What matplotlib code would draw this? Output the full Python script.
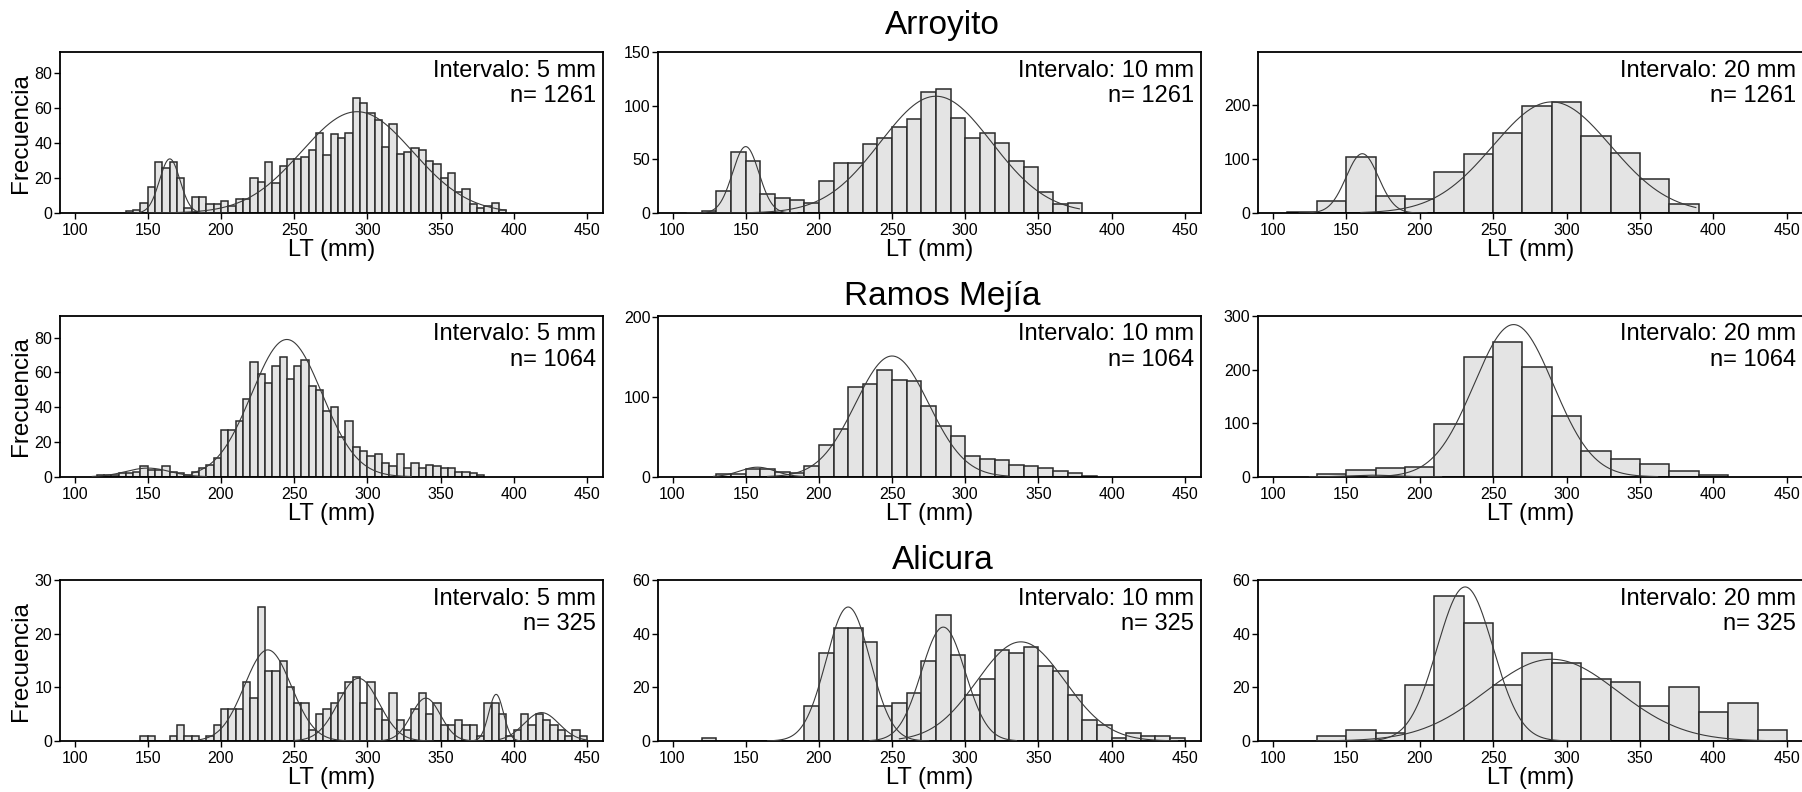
import numpy as np
import matplotlib
matplotlib.use("Agg")
import matplotlib.pyplot as plt

plt.rcParams["font.family"] = ["Liberation Sans", "DejaVu Sans"]

# Frequencies per length class (LT, mm).
# Each series starts at the given left bin edge.

# --- Arroyito (n = 1261) ---
arroyito_5_start = 135
arroyito_5 = [1, 2, 6, 15, 29, 26, 29, 20, 3, 9, 9, 5, 5, 7, 4, 8, 8,
              20, 18, 29, 17, 27, 31, 31, 32, 36, 46, 33, 45, 43, 46,
              66, 63, 57, 53, 38, 51, 34, 35, 37, 36, 30, 28, 20, 23,
              12, 14, 5, 3, 4, 6, 2]
arroyito_10_start = 120
arroyito_10 = [2, 21, 57, 49, 18, 14, 12, 9, 30, 47, 47, 64, 70, 80, 88,
               113, 116, 89, 70, 75, 65, 49, 43, 20, 8, 9]
arroyito_20_start = 110
arroyito_20 = [2, 23, 104, 32, 26, 76, 110, 149, 199, 205, 142, 112, 63, 17]

# --- Ramos Mejía (n = 1064) ---
ramos_5_start = 115
ramos_5 = [1, 1, 1, 2, 2, 3, 6, 4, 4, 6, 3, 2, 1, 3, 5, 7, 11,
           27, 27, 32, 45, 66, 59, 54, 64, 69, 56, 64, 67, 52, 50, 38,
           40, 23, 32, 17, 15, 12, 13, 8, 6, 13, 5, 8, 5, 7, 6, 5, 5,
           3, 3, 2, 1]
ramos_10_start = 130
ramos_10 = [4, 3, 10, 10, 6, 5, 14, 40, 60, 112, 116, 134, 121, 120, 89,
            64, 51, 26, 22, 21, 15, 13, 11, 7, 5, 1]
ramos_20_start = 130
ramos_20 = [5, 12, 16, 19, 98, 224, 252, 205, 113, 48, 33, 24, 11, 3]

# --- Alicura (n = 325) ---
alicura_5_start = 145
alicura_5 = [1, 1, 0, 0, 1, 3, 1, 1, 0, 1, 3, 6, 6, 6, 11, 8, 25, 13, 13,
             15, 10, 7, 7, 2, 5, 6, 7, 9, 11, 12, 7, 11, 6, 4, 9, 4, 2,
             6, 9, 5, 7, 3, 3, 4, 3, 3, 1, 7, 7, 5, 1, 2, 5, 3, 5, 4, 3,
             2, 1, 2, 1]
alicura_10_start = 120
alicura_10 = [1, 0, 0, 0, 0, 0, 0, 13, 33, 42, 42, 37, 13, 14, 18, 30, 47,
              32, 17, 23, 34, 33, 35, 28, 26, 17, 8, 6, 1, 3, 2, 2, 1]
alicura_20_start = 130
alicura_20 = [2, 4, 3, 21, 54, 44, 21, 33, 29, 23, 22, 13, 20, 11, 14, 4]

# Fitted normal components: (mean, sd, peak height, from, to)
arroyito_5_fit = [(165, 7, 31, 135, 205), (293, 38, 58, 150, 395)]
arroyito_10_fit = [(150, 9, 62, 110, 185), (280, 38, 109, 125, 378)]
arroyito_20_fit = [(161, 11, 110, 118, 205), (290, 40, 206, 160, 388)]
ramos_5_fit = [(150, 15, 5, 112, 190), (245, 24, 79, 180, 330)]
ramos_10_fit = [(158, 12, 12, 128, 190), (250, 25, 151, 165, 330)]
ramos_20_fit = [(168, 15, 3, 125, 215), (264, 27, 284, 165, 362)]
alicura_5_fit = [(232, 16, 17, 185, 300), (294, 14, 11.7, 250, 345),
                 (340, 10, 8, 300, 380), (388, 5, 8.7, 370, 410),
                 (419, 12, 5.3, 390, 450)]
alicura_10_fit = [(220, 15, 50, 165, 275), (285, 15, 42.5, 235, 335),
                  (338, 30, 37, 255, 445)]
alicura_20_fit = [(231, 19, 57.5, 130, 330), (290, 45, 30.5, 130, 450)]

sites = ["Arroyito", "Ramos Mejía", "Alicura"]
sizes = [1261, 1064, 325]
widths = [5, 10, 20]

grid = [
    [(arroyito_5, arroyito_5_start, arroyito_5_fit, 92, [0, 20, 40, 60, 80]),
     (arroyito_10, arroyito_10_start, arroyito_10_fit, 150, [0, 50, 100, 150]),
     (arroyito_20, arroyito_20_start, arroyito_20_fit, 298, [0, 100, 200])],
    [(ramos_5, ramos_5_start, ramos_5_fit, 92.5, [0, 20, 40, 60, 80]),
     (ramos_10, ramos_10_start, ramos_10_fit, 201, [0, 100, 200]),
     (ramos_20, ramos_20_start, ramos_20_fit, 300, [0, 100, 200, 300])],
    [(alicura_5, alicura_5_start, alicura_5_fit, 30, [0, 10, 20, 30]),
     (alicura_10, alicura_10_start, alicura_10_fit, 60, [0, 20, 40, 60]),
     (alicura_20, alicura_20_start, alicura_20_fit, 60, [0, 20, 40, 60])],
]

fig = plt.figure(figsize=(18.02, 7.92), dpi=100)

col_left = [0.0333, 0.3651, 0.6981]
col_width = [0.3013, 0.3013, 0.3025]
row_bottom = [0.731, 0.398, 0.0644]
row_height = 0.203
title_y = [0.968, 0.626, 0.292]

for r, row in enumerate(grid):
    for c, (values, start, fit, ytop, yticks) in enumerate(row):
        ax = fig.add_axes([col_left[c], row_bottom[r], col_width[c], row_height])
        w = widths[c]
        edges = start + w * np.arange(len(values))
        ax.bar(edges, values, width=w, align="edge", color="#e4e4e4",
               edgecolor="#2a2a2a", linewidth=1.1, zorder=2)
        for mu, sd, peak, x0, x1 in fit:
            x = np.linspace(x0, x1, 400)
            ax.plot(x, peak * np.exp(-0.5 * ((x - mu) / sd) ** 2),
                    color="#3a3a3a", lw=0.8, zorder=3)

        ax.set_xlim(90, 461)
        ax.set_ylim(0, ytop)
        ax.set_xticks([100, 150, 200, 250, 300, 350, 400, 450])
        ax.set_yticks(yticks)
        ax.tick_params(axis="x", direction="out", length=4, width=1,
                       labelsize=11.5, pad=3)
        ax.tick_params(axis="y", direction="out", length=4, width=1,
                       labelsize=11.5, pad=1.5)
        for sp in ax.spines.values():
            sp.set_linewidth(1.3)
            sp.set_color("black")

        ax.text(0.987, 0.885, f"Intervalo: {w} mm", transform=ax.transAxes,
                ha="right", va="center", fontsize=17, zorder=5)
        ax.text(0.987, 0.725, f"n= {sizes[r]}", transform=ax.transAxes,
                ha="right", va="center", fontsize=17, zorder=5)

        ax.set_xlabel("LT (mm)", fontsize=17)
        ax.xaxis.label.set_va("center")
        ax.xaxis.set_label_coords(0.5, -0.229)
        if c == 0:
            ax.set_ylabel("Frecuencia", fontsize=17.5)
            ax.yaxis.label.set_va("center")
            ax.yaxis.set_label_coords(-0.072, 0.5)

    fig.text(0.523, title_y[r], sites[r], ha="center", va="center", fontsize=24)

fig.savefig("out.png", dpi=100)
